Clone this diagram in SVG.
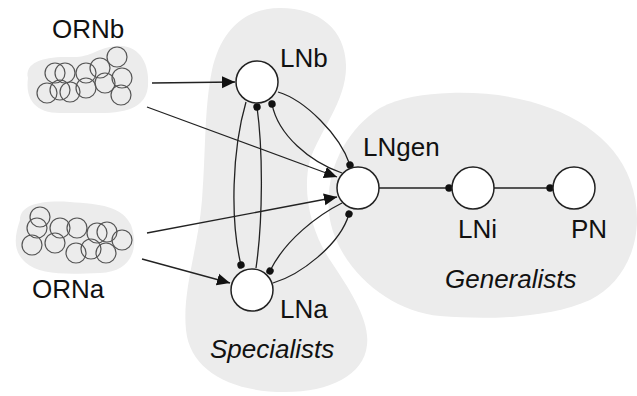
<svg xmlns="http://www.w3.org/2000/svg" width="637" height="396" viewBox="0 0 637 396">
  <style>
    .blob { fill: #ececec; stroke: none; }
    .orn { fill: none; stroke: #555; stroke-width: 1.2; }
    .node { fill: #fff; stroke: #222; stroke-width: 1.5; }
    .edge { fill: none; stroke: #222; stroke-width: 1.3; }
    .lbl { font-family: "Liberation Sans", Arial, sans-serif; font-size: 26px; fill: #111; }
    .it { font-style: italic; }
  </style>
  <defs>
    <marker id="arr" markerUnits="userSpaceOnUse" markerWidth="14" markerHeight="14" viewBox="0 0 14 14" refX="13" refY="7" orient="auto">
      <path d="M0,1 L13,7 L0,13 Z" fill="#111"/>
    </marker>
    <marker id="dot" markerUnits="userSpaceOnUse" markerWidth="9" markerHeight="9" viewBox="0 0 9 9" refX="4.5" refY="4.5" orient="auto">
      <circle cx="4.5" cy="4.5" r="3.7" fill="#111"/>
    </marker>
  </defs>

  <g id="regions">
    <path id="specialists-region" class="blob" d="M280,8 C320,8 345,30 346,65 C347,100 320,130 310,160 C302,190 310,230 330,260 C350,290 370,320 367,345 C364,375 330,392 285,392 C230,392 190,370 186,330 C182,290 198,250 202,200 C206,150 204,110 212,70 C221,30 245,8 280,8 Z"/>
    <path id="generalists-region" class="blob" d="M450,93 C540,90 610,125 630,180 C648,230 630,280 590,300 C550,318 490,320 440,316 C390,312 340,270 330,220 C322,175 345,130 380,108 C400,97 425,94 450,93 Z"/>
  </g>

  <g id="ORNb">
    <path class="blob" d="M28,78 C24,62 45,56 70,57 C92,58 96,48 116,46 C140,44 150,65 148,86 C146,106 130,113 100,113 L60,113 C36,113 25,100 28,78 Z"/>
    <circle class="orn" cx="55" cy="73" r="10"/>
    <circle class="orn" cx="65" cy="73" r="10"/>
    <circle class="orn" cx="86" cy="73" r="10"/>
    <circle class="orn" cx="100" cy="68" r="10"/>
    <circle class="orn" cx="117" cy="57" r="10"/>
    <circle class="orn" cx="122" cy="78" r="10"/>
    <circle class="orn" cx="47" cy="93" r="10"/>
    <circle class="orn" cx="60" cy="90" r="10"/>
    <circle class="orn" cx="70" cy="92" r="10"/>
    <circle class="orn" cx="86" cy="88" r="10"/>
    <circle class="orn" cx="105" cy="83" r="10"/>
    <circle class="orn" cx="121" cy="95" r="10"/>
    <text class="lbl" x="52" y="38">ORNb</text>
  </g>

  <g id="ORNa">
    <path class="blob" d="M20,220 C20,205 40,200 70,202 C100,204 122,206 131,225 C140,250 130,272 100,273 C70,274 40,276 25,262 C12,250 15,235 20,220 Z"/>
    <circle class="orn" cx="40" cy="217" r="10"/>
    <circle class="orn" cx="37" cy="228" r="10"/>
    <circle class="orn" cx="32" cy="245" r="10"/>
    <circle class="orn" cx="60" cy="228" r="10"/>
    <circle class="orn" cx="55" cy="243" r="10"/>
    <circle class="orn" cx="77" cy="228" r="10"/>
    <circle class="orn" cx="97" cy="233" r="10"/>
    <circle class="orn" cx="107" cy="232" r="10"/>
    <circle class="orn" cx="122" cy="240" r="10"/>
    <circle class="orn" cx="76" cy="253" r="10"/>
    <circle class="orn" cx="91" cy="249" r="10"/>
    <circle class="orn" cx="106" cy="253" r="10"/>
    <text class="lbl" x="32" y="298">ORNa</text>
  </g>

  <g id="connectors">
    <path class="edge" d="M152,83 L235,82" marker-end="url(#arr)"/>
    <path class="edge" d="M147,107 L337,177" marker-end="url(#arr)"/>
    <path class="edge" d="M147,233 L337,197" marker-end="url(#arr)"/>
    <path class="edge" d="M142,259 L230,283" marker-end="url(#arr)"/>
    <path class="edge" d="M246,102 C232,150 230,220 241,265" marker-end="url(#dot)"/>
    <path class="edge" d="M256,268 C263,220 263,150 257,107" marker-end="url(#dot)"/>
    <path class="edge" d="M278,92 C305,100 340,135 350,165" marker-end="url(#dot)"/>
    <path class="edge" d="M342,173 C310,162 278,135 272,104" marker-end="url(#dot)"/>
    <path class="edge" d="M273,283 C300,275 340,245 349,214" marker-end="url(#dot)"/>
    <path class="edge" d="M342,203 C318,215 285,240 270,271" marker-end="url(#dot)"/>
    <path class="edge" d="M379,188 L449,188" marker-end="url(#dot)"/>
    <path class="edge" d="M494,188 L550,188" marker-end="url(#dot)"/>
  </g>

  <g id="LNb">
    <circle class="node" cx="257" cy="82" r="21"/>
    <text class="lbl" x="280" y="67">LNb</text>
  </g>
  <g id="LNa">
    <circle class="node" cx="252" cy="290" r="21"/>
    <text class="lbl" x="280" y="318">LNa</text>
  </g>
  <g id="LNgen">
    <circle class="node" cx="358" cy="188" r="21"/>
    <text class="lbl" x="363" y="156">LNgen</text>
  </g>
  <g id="LNi">
    <circle class="node" cx="473" cy="188" r="21"/>
    <text class="lbl" x="458" y="238">LNi</text>
  </g>
  <g id="PN">
    <circle class="node" cx="574" cy="188" r="21"/>
    <text class="lbl" x="571" y="238">PN</text>
  </g>

  <g id="group-labels">
    <text class="lbl it" x="210" y="358">Specialists</text>
    <text class="lbl it" x="445" y="288">Generalists</text>
  </g>
</svg>
